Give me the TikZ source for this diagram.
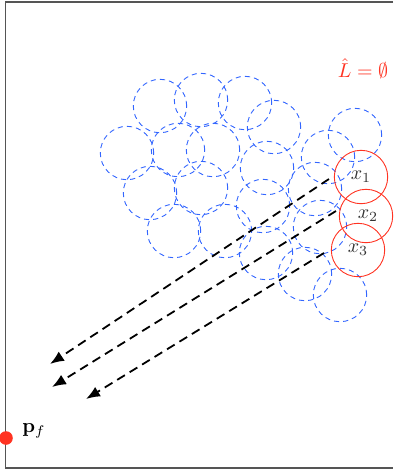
\documentclass[tikz,border=0pt]{standalone}
\usepackage{xcolor}
\usepackage{tikz}
\usetikzlibrary{arrows.meta, positioning}
\definecolor{bleu}{HTML}{3366FF}
\definecolor{rouge}{HTML}{FF3322}
\definecolor{encre}{HTML}{333333}
\definecolor{cadre}{HTML}{555555}
\tikzset{
  disque/.style={circle, draw=bleu, dash pattern=on 2.6pt off 2pt, line width=0.45pt,
    minimum size=26.7pt, inner sep=0pt},
  cible/.style={circle, draw=rouge, line width=0.45pt, minimum size=26.7pt, inner sep=0pt,
    text=encre, font=\normalsize},
  fleche/.style={-{Latex[length=7pt, width=5.5pt]}, line width=0.9pt,
    dash pattern=on 4.5pt off 2.8pt, color=black},
  point/.style={circle, fill=rouge, inner sep=0pt, minimum size=6.8pt},
  etiquette/.style={font=\normalsize, color=black}
}
\begin{document}
\begin{tikzpicture}[x=0.5pt, y=-0.5pt]
    \useasboundingbox (0,0) rectangle (393,472);
    \draw[cadre, line width=0.6pt] (393,2) -- (5.5,2) -- (5.5,468) -- (393,468);

    \foreach \cx/\cy [count=\i] in {160/106, 201/100, 245/103, 274/127, 127/153, 178/150,
        213/150, 267/168, 150/193, 201/188, 263/206, 174/231, 225/231, 328/157,
        355/135, 315/189, 320/227, 266/253, 305/274, 340/295}
      \node[disque] (d\i) at (\cx,\cy) {};

    \node[cible] (x1) at (361,177) {$x_1$};
    \node[cible] (x2) at (366,216) {\hspace{2pt}$x_2$};
    \node[cible] (x3) at (358,250) {\raisebox{2pt}{$x_3$}};

    \node[text=rouge] (lvide) at (363,69) {$\hat{L}=\emptyset$};

    \node[point] (pf) at (6,438) {};
    \node[etiquette, right=1pt of pf, yshift=3.5pt] (lpf) {$\mathbf{p}_f$};

    \coordinate (a1) at (329,179);
    \coordinate (b1) at (50,364);
    \coordinate (a2) at (336,211);
    \coordinate (b2) at (52,387);
    \coordinate (a3) at (324,253);
    \coordinate (b3) at (86,399);
    \draw[fleche] (a1) -- (b1);
    \draw[fleche] (a2) -- (b2);
    \draw[fleche] (a3) -- (b3);
\end{tikzpicture}
\end{document}
